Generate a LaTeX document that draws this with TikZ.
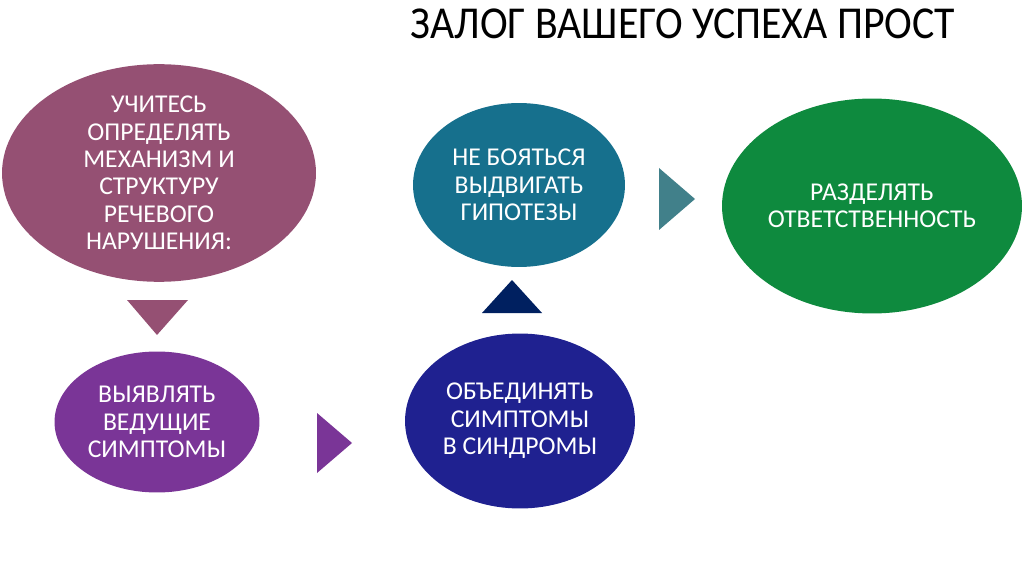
\documentclass[tikz,border=0pt]{standalone}
\usepackage{fontspec}
\setmainfont{Carlito}
\newfontfamily\titlefont[FakeStretch=0.915]{Carlito}
\usepackage{tikz}
\usetikzlibrary{shapes.geometric, positioning}
\definecolor{mauve}{RGB}{149, 80, 115}
\definecolor{tealblue}{RGB}{22, 112, 141}
\definecolor{leaf}{RGB}{14, 138, 62}
\definecolor{violet}{RGB}{122, 53, 151}
\definecolor{navy}{RGB}{31, 33, 144}
\definecolor{darknavy}{RGB}{0, 32, 96}
\definecolor{slateteal}{RGB}{65, 128, 138}

\begin{document}
\begin{tikzpicture}[x=0.02cm, y=-0.02cm,
  oval/.style={ellipse, inner sep=0pt, text=white, align=center,
    font=\fontsize{14.6pt}{15.6pt}\selectfont},
  ttl/.style={font=\titlefont\fontsize{26pt}{30pt}\selectfont, text=black}
]
\useasboundingbox (0,0) rectangle (1024,574);
\node[ttl] at (683, 24) (title) {ЗАЛОГ ВАШЕГО УСПЕХА ПРОСТ};
\node[oval, fill=mauve, minimum width=6.28cm, minimum height=4.0cm]
  at (159, 173) (learn) {УЧИТЕСЬ\\ОПРЕДЕЛЯТЬ\\МЕХАНИЗМ И\\СТРУКТУРУ\\РЕЧЕВОГО\\НАРУШЕНИЯ:};
\node[oval, fill=violet, minimum width=4.1cm, minimum height=2.82cm]
  at (157, 422) (reveal) {ВЫЯВЛЯТЬ\\ВЕДУЩИЕ\\СИМПТОМЫ};
\node[oval, fill=navy, minimum width=4.6cm, minimum height=3.5cm]
  at (520, 421) (unite) {ОБЪЕДИНЯТЬ\\СИМПТОМЫ\\В СИНДРОМЫ};
\node[oval, fill=tealblue, minimum width=4.24cm, minimum height=3.28cm]
  at (519, 185) (guess) {НЕ БОЯТЬСЯ\\ВЫДВИГАТЬ\\ГИПОТЕЗЫ};
\node[oval, fill=leaf, minimum width=6.0cm, minimum height=4.3cm]
  at (872, 206) (share) {РАЗДЕЛЯТЬ\\ОТВЕТСТВЕННОСТЬ};
% triangle pointers
\fill[mauve]     (127,300) -- (188,300) -- (157,335) -- cycle;
\fill[violet]    (317,413) -- (352,443) -- (317,473) -- cycle;
\fill[darknavy]  (482,313) -- (542,313) -- (512,280) -- cycle;
\fill[slateteal] (659,168) -- (695,199) -- (659,230) -- cycle;
\end{tikzpicture}
\end{document}
